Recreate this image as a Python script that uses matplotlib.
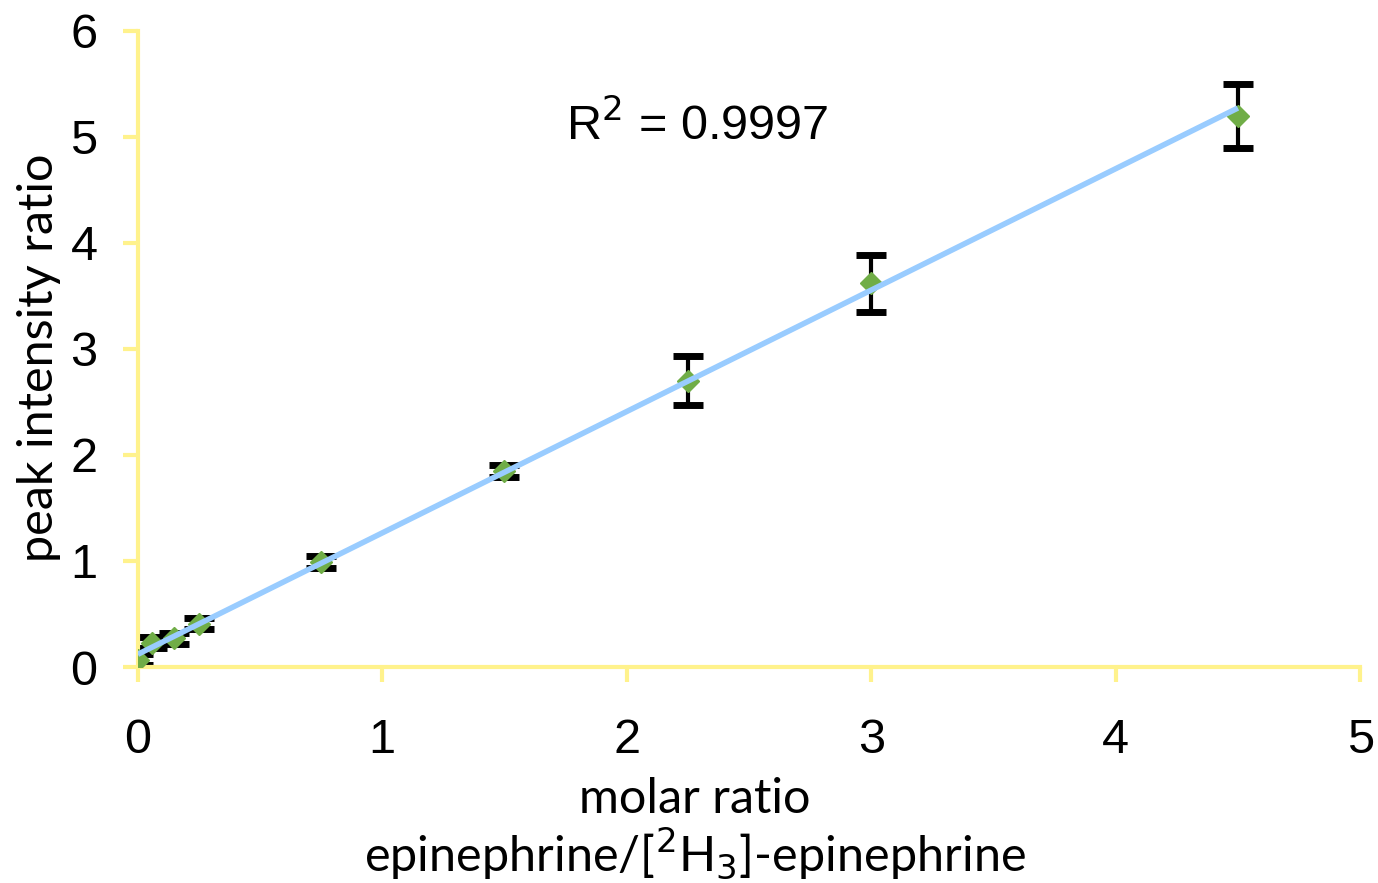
import matplotlib
matplotlib.use("Agg")
import matplotlib.pyplot as plt
from matplotlib import font_manager as fm

# Data
molar_ratio = [0.0, 0.06, 0.15, 0.25, 0.75, 1.5, 2.25, 3.0, 4.5]
peak_ratio = [0.07, 0.23, 0.27, 0.41, 0.99, 1.85, 2.70, 3.62, 5.20]
peak_err = [0.05, 0.05, 0.05, 0.05, 0.06, 0.06, 0.23, 0.27, 0.30]
fit_slope = 1.145
fit_intercept = 0.12
fit_x = [0.0, 4.5]
x_ticks = [0, 1, 2, 3, 4, 5]
y_ticks = [0, 1, 2, 3, 4, 5, 6]
r2_text = "R$^2$ = 0.9997"

names = {f.name for f in fm.fontManager.ttflist}
tick_font = "Liberation Sans Narrow" if "Liberation Sans Narrow" in names else "Liberation Sans"
label_font = "Lato" if "Lato" in names else "DejaVu Sans"

fig = plt.figure(figsize=(13.78, 8.83), dpi=100)
ax = fig.add_axes([0.1, 0.2446, 0.887, 0.7204])

yellow = "#FFF28C"
ax.errorbar(molar_ratio, peak_ratio, yerr=peak_err, fmt="none", ecolor="black",
            elinewidth=3, capsize=11, capthick=5, zorder=2)
ax.plot(molar_ratio, peak_ratio, linestyle="none", marker="D", markersize=11.5,
        color="#70AD47", zorder=3)
fit_y = [fit_slope * x + fit_intercept for x in fit_x]
ax.plot(fit_x, fit_y, color="#99CCFF", linewidth=4, zorder=4, solid_capstyle="butt")

ax.set_xlim(0, 5)
ax.set_ylim(0, 6)
ax.set_xticks(x_ticks)
ax.set_yticks(y_ticks)

for side in ["top", "right"]:
    ax.spines[side].set_visible(False)
for side in ["left", "bottom"]:
    ax.spines[side].set_color(yellow)
    ax.spines[side].set_linewidth(3)
ax.tick_params(axis="both", direction="out", length=11, width=3, color=yellow,
               labelsize=35)
ax.tick_params(axis="x", pad=26)
ax.tick_params(axis="y", pad=18)
for lab in ax.get_xticklabels() + ax.get_yticklabels():
    lab.set_fontfamily(tick_font)

ax.text(2.29, 5.11, r2_text, fontsize=35, fontfamily=tick_font,
        ha="center", va="center")

ax.set_xlabel("molar ratio\nepinephrine/[$^2$H$_3$]-epinephrine", fontsize=35,
              fontfamily=label_font, linespacing=1.1)
ax.set_ylabel("peak intensity ratio", fontsize=35, fontfamily=label_font)
ax.xaxis.set_label_coords(0.456, -0.173, transform=ax.transAxes)
ax.yaxis.set_label_coords(-0.063, 0.486, transform=ax.transAxes)
ax.xaxis.label.set_va("top")

fig.savefig("out.png", dpi=100)
